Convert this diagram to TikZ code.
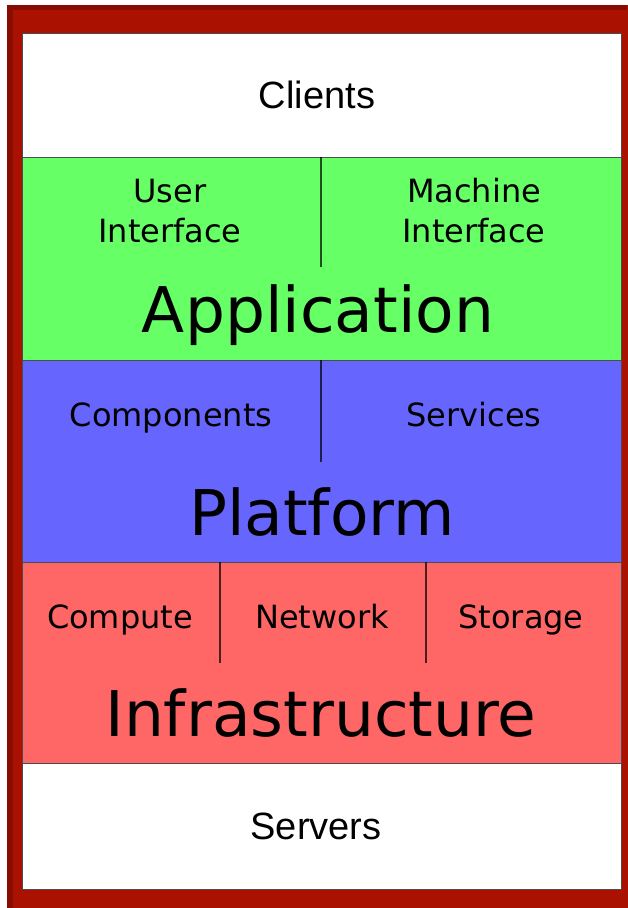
\documentclass[tikz,border=0pt]{standalone}
\usepackage{fontspec}
\setmainfont{DejaVu Sans}
\newfontfamily\edgefont{Liberation Sans}
\definecolor{framered}{HTML}{AA1100}
\definecolor{framedark}{HTML}{880D00}
\definecolor{appgreen}{HTML}{66FF66}
\definecolor{platblue}{HTML}{6666FF}
\definecolor{infrared}{HTML}{FF6666}
\begin{document}
\begin{tikzpicture}[x=1pt,y=-1pt,%
band/.style={draw=black!70, line width=1pt, anchor=north west, minimum width=599pt, inner sep=0pt},
divider/.style={draw=black, opacity=0.7, line width=1.8pt},
small/.style={font=\fontsize{32}{40}\selectfont, align=center, anchor=base, inner sep=0pt},
big/.style={font=\fontsize{63}{70}\selectfont, anchor=base, inner sep=0pt},
edge/.style={font=\edgefont\fontsize{38}{44}\selectfont, anchor=base, inner sep=0pt} ]
\useasboundingbox (0,0) rectangle (627,908);
% frame
\fill[framered, rounded corners=2pt] (7,5) rectangle (640,920);
\fill[framedark] (7,5) rectangle (13,908);
\fill[framedark] (7,5) rectangle (627,10);
% layers
\node[band, fill=white, minimum height=124pt] (clients) at (22,33) {};
\node[band, fill=appgreen, minimum height=203pt] (application) at (22,157) {};
\node[band, fill=platblue, minimum height=202pt] (platform) at (22,360) {};
\node[band, fill=infrared, minimum height=201pt] (infrastructure) at (22,562) {};
\node[band, fill=white, minimum height=126pt] (servers) at (22,763) {};
% dividers
\coordinate (appdiv) at (321,267);
\coordinate (platdiv) at (321,462);
\coordinate (infdivA) at (220,663);
\coordinate (infdivB) at (426,663);
\draw[divider] (appdiv |- application.north) -- (appdiv);
\draw[divider] (platdiv |- platform.north) -- (platdiv);
\draw[divider] (infdivA |- infrastructure.north) -- (infdivA);
\draw[divider] (infdivB |- infrastructure.north) -- (infdivB);
% labels (base = last line)
\node[edge] (clientstext) at (317,108) {Clients};
\node[small] (ui) at (170,242) {User\\Interface};
\node[small] (mi) at (474,242) {Machine\\Interface};
\node[big] (apptext) at (318,332) {Application};
\node[small] (components) at (171,426) {Components};
\node[small] (services) at (474,426) {Services};
\node[big] (plattext) at (322,535) {Platform};
\node[small] (compute) at (120,628) {Compute};
\node[small] (network) at (322,628) {Network};
\node[small] (storage) at (521,628) {Storage};
\node[big] (inftext) at (321,736) {Infrastructure};
\node[edge] (serverstext) at (316,839) {Servers};
\end{tikzpicture}
\end{document}
